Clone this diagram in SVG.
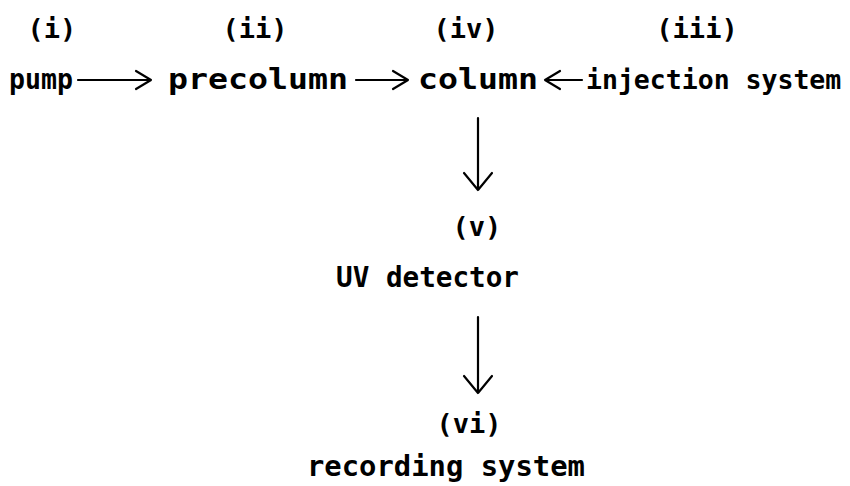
<svg xmlns="http://www.w3.org/2000/svg" width="850" height="486" viewBox="0 0 850 486">
<style>
text{font-family:"DejaVu Sans Mono","Liberation Mono",monospace;font-weight:bold;fill:#000}
.l{font-size:27px;text-anchor:middle}
.n{font-size:29px}
.ln{stroke:#000;stroke-width:2.2;fill:none;stroke-linecap:round;stroke-linejoin:round}
</style>
<rect width="850" height="486" fill="#fff"/>
<g id="pump"><text class="l" x="52" y="38">(i)</text><text class="n" x="9" y="89" textLength="64" lengthAdjust="spacingAndGlyphs">pump</text></g>
<g id="precolumn"><text class="l" x="255" y="38">(ii)</text><text class="n" x="168" y="89" textLength="180" lengthAdjust="spacingAndGlyphs">precolumn</text></g>
<g id="column"><text class="l" x="466" y="38">(iv)</text><text class="n" x="418" y="89" textLength="120" lengthAdjust="spacingAndGlyphs">column</text></g>
<g id="injection"><text class="l" x="697" y="38">(iii)</text><text class="n" x="586" y="89" style="font-size:26.5px">injection system</text></g>
<g id="detector"><text class="l" x="477" y="236">(v)</text><text class="n" x="336" y="287" textLength="183" lengthAdjust="spacingAndGlyphs">UV detector</text></g>
<g id="recording"><text class="l" x="469" y="433">(vi)</text><text class="n" x="307" y="476" textLength="278" lengthAdjust="spacingAndGlyphs">recording system</text></g>
<g id="connectors" class="ln">
<path d="M78 80H151M136 71L151 80L136 89"/>
<path d="M356 80H408M393 71L408 80L393 89"/>
<path d="M582 80H545M560 71L545 80L560 89"/>
<path d="M478 118V190M464 173L478 190L492 173"/>
<path d="M478 317V393M464 376L478 393L492 376"/>
</g>
</svg>
